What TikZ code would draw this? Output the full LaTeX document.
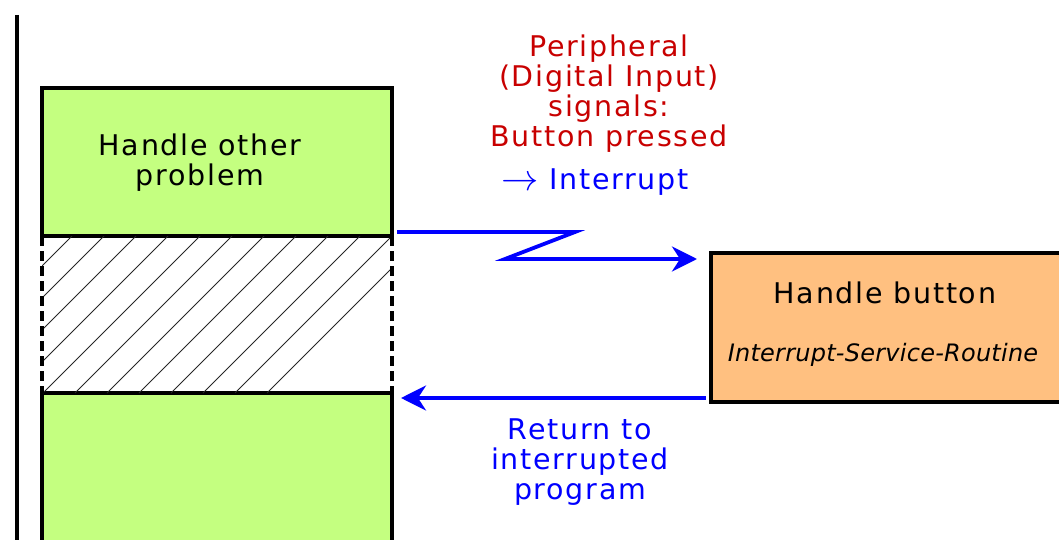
\documentclass[tikz,border=0pt]{standalone}
\usepackage{fontspec}
\setmainfont{DejaVu Sans}[LetterSpace=6]
\newfontfamily\isrfont{DejaVu Sans}[LetterSpace=1]
\usetikzlibrary{arrows.meta,calc}
\definecolor{progfill}{RGB}{196,255,128}
\definecolor{isrfill}{RGB}{255,192,128}
\definecolor{sigred}{RGB}{200,0,0}
\definecolor{sigblue}{RGB}{0,0,255}
\begin{document}
\begin{tikzpicture}[x=1pt,y=-1pt,
  progbox/.style={draw=black,line width=3.5pt,fill=progfill,inner sep=0pt,
    outer sep=0pt,minimum width=350pt},
  isrbox/.style={draw=black,line width=3.5pt,fill=isrfill,inner sep=0pt,
    outer sep=0pt,minimum width=369pt,minimum height=149pt},
  bigtext/.style={font=\fontsize{28.5}{30}\selectfont,align=center,inner sep=0pt},
  smalltext/.style={font=\isrfont\fontsize{24}{26}\selectfont\itshape,inner sep=0pt},
  sig/.style={draw=sigblue,line width=3.8pt,miter limit=10,
    -{Stealth[length=25pt,width=25pt,inset=8pt]}},
  hatch/.style={draw=black!85,line width=0.9pt},
  gap/.style={draw=black,line width=3.5pt,dash pattern=on 10pt off 5pt}]
\useasboundingbox (0,0) rectangle (1059,540);
\clip (0,0) rectangle (1059,540);

% time axis of the main program
\draw[line width=3.2pt] (17,15) -- (17,545);

% interrupted program: upper and lower parts
\node[progbox,minimum height=148pt] (top) at (217,162) {};
\node[progbox,minimum height=167pt] (bot) at (217,476.5) {};

% paused section, hatched
\begin{scope}
  \clip (top.south west) rectangle (bot.north east);
  \foreach \k in {-6,...,11}
    \draw[hatch] (72+32*\k-157,393) -- (72+32*\k,236);
\end{scope}
\draw[gap] (top.south west) -- (bot.north west);
\draw[gap] (top.south east) -- (bot.north east);

\node[bigtext] (toptext) at (200,163) {Handle other\\problem};

% interrupt service routine
\node[isrbox] (isr) at (895.5,327.5) {};
\node[bigtext] (isrtitle) at (885,293) {Handle button};
\node[smalltext] (isrname) at (883,355) {Interrupt-Service-Routine};

% labels
\node[bigtext,text=sigred] (periph) at (609,94)
  {Peripheral\\(Digital Input)\\signals:\\Button pressed};
\node[bigtext,text=sigblue] (irq) at (595,182)
  {\raisebox{-1pt}{\scalebox{1.5}{$\rightarrow$}} Interrupt};
\node[bigtext,text=sigblue] (ret) at (580,462)
  {Return to\\interrupted\\program};

% interrupt request and return
\draw[sig,line join=miter] ($(top.south east)+(5,-4)$) -- ++(178,0) -- ++(-70,27)
  -- ($(isr.north west)+(-14,6)$);
\draw[sig] ($(isr.south west)+(-5,-4)$) -- ($(bot.north east)+(9,5)$);
\end{tikzpicture}
\end{document}
